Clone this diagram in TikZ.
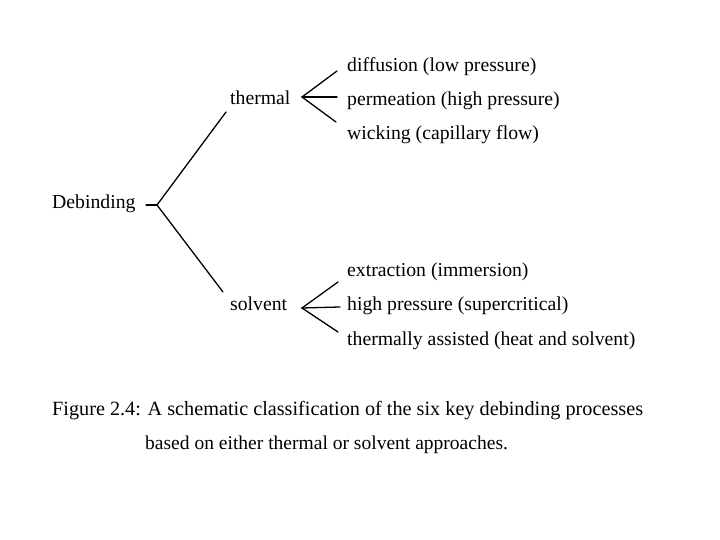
\documentclass[tikz,border=0pt]{standalone}
\usepackage{fontspec}
\setmainfont{Liberation Serif}
\begin{document}
\begin{tikzpicture}[x=1bp,y=-1bp,
  lbl/.style={anchor=base west,inner sep=0pt,font=\fontsize{19.8}{22}\selectfont},
  capt/.style={anchor=base west,inner sep=0pt,font=\fontsize{20.3}{23}\selectfont},
  capb/.style={anchor=base west,inner sep=0pt,font=\fontsize{19.6}{23}\selectfont},
  ln/.style={line width=1.3pt,line cap=round}]
\useasboundingbox[fill=white] (0,0) rectangle (720,540);
% labels
\node[lbl] (deb) at (52,209) {Debinding};
\node[lbl] (th) at (230,105) {thermal};
\node[lbl] (so) at (230,310) {solvent};
\node[lbl] (t1) at (347,72) {diffusion (low pressure)};
\node[lbl] (t2) at (347,106) {permeation (high pressure)};
\node[lbl] (t3) at (347,140) {wicking (capillary flow)};
\node[lbl] (s1) at (347,277) {extraction (immersion)};
\node[lbl] (s2) at (347,310) {high pressure (supercritical)};
\node[lbl] (s3) at (347,345) {thermally assisted (heat and solvent)};
\node[capt] (cap1) at (52,415) {Figure 2.4: A schematic classification of the six key debinding processes};
\node[capb] (cap2) at (145,449) {based on either thermal or solvent approaches.};
% tree
\coordinate (j) at (157,205);
\coordinate (jt) at (146,205);
\coordinate (ta) at (226,112);
\coordinate (sa) at (223,292);
\draw[ln] (jt) -- (j);
\draw[ln] (j) -- (ta);
\draw[ln] (j) -- (sa);
\coordinate (fa) at (302,97);
\coordinate (f1) at (337,71);
\coordinate (f2) at (337,97);
\coordinate (f3) at (336,122);
\draw[ln] (f1) -- (fa) -- (f3);
\draw[ln] (fa) -- (f2);
\coordinate (ga) at (302,308);
\coordinate (g1) at (338,282);
\coordinate (g2) at (340,307);
\coordinate (g3) at (338,332);
\draw[ln] (g1) -- (ga) -- (g3);
\draw[ln] (ga) -- (g2);
\end{tikzpicture}
\end{document}
